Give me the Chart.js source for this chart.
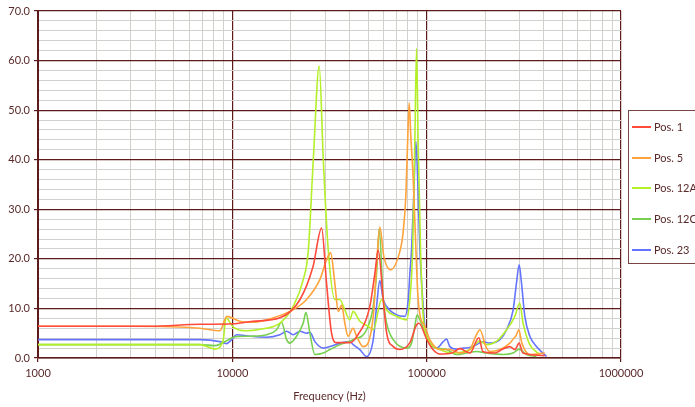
<!DOCTYPE html>
<html>
<head>
<meta charset="utf-8">
<script src="https://cdn.jsdelivr.net/npm/chart.js@4.4.0/dist/chart.umd.min.js"></script>
<style>
  html, body { margin:0; padding:0; width:695px; height:407px; overflow:hidden; background:#fff; }
  #wrap { position:relative; width:695px; height:407px; }
  #legend { position:absolute; left:628px; top:110px; width:90px; height:154px; border:1px solid #7a4545; box-sizing:border-box; font-family:Lato, sans-serif; font-size:11px; color:#5a2a2a; }
  .item { position:absolute; left:3px; height:14px; line-height:14px; white-space:nowrap; }
  .sw { position:absolute; left:0; top:6px; width:19px; height:2px; }
  .lbl { position:absolute; left:22px; top:0; }
</style>
</head>
<body>
<div id="wrap">
<canvas id="c" width="695" height="407"></canvas>
<div id="legend"></div>
</div>
<script>
const seriesNames = ["Pos. 1", "Pos. 5", "Pos. 12A", "Pos. 12C", "Pos. 23"];
const seriesColors = ["#ff4a3c", "#ffa33c", "#b4f02a", "#78d050", "#6474ff"];

const freqPos1 = [1000, 3770, 6800, 10000, 12770, 17580, 22300, 26000, 28800, 30550, 32400, 34400, 40300, 43600, 51000, 54200, 56300, 59800, 62200, 67300, 72800, 82000, 88700, 91200, 100000, 107700, 117000, 135000, 148300, 166800, 185700, 194600, 224500, 243900, 268000, 284400, 299300, 312800, 405500];
const valPos1 = [6.4, 6.4, 6.8, 6.9, 7.4, 8.1, 11.8, 18.4, 26.2, 15, 5, 3.1, 3.1, 4.3, 10.4, 17.2, 21.8, 11.8, 5.1, 2.3, 1.7, 3.1, 6.7, 7.0, 3.8, 1.7, 0.8, 1.0, 1.9, 1.0, 4.1, 1.3, 1.0, 1.7, 2.3, 1.7, 3.0, 1.0, 0.5];

const freqPos5 = [1000, 2970, 6810, 8630, 9380, 10940, 12770, 15600, 20500, 24100, 28200, 30550, 32050, 33700, 35100, 36500, 37900, 39400, 41800, 43600, 47100, 53100, 55200, 57400, 60200, 65200, 72800, 75500, 78200, 80000, 81300, 82800, 85300, 88000, 90000, 92300, 97900, 103800, 117000, 131600, 148300, 166800, 179000, 187800, 201700, 211500, 238300, 268000, 281000, 287700, 298000, 309000, 339600, 405500];
const valPos5 = [6.4, 6.4, 6.0, 5.5, 8.4, 7.4, 7.2, 7.9, 9.7, 11.8, 15.8, 19.8, 21.2, 15, 9.4, 10.7, 7.1, 4.4, 6.0, 4.4, 2.3, 8.4, 18.5, 26.4, 20.5, 17.8, 21.5, 25, 33, 45, 51.5, 45, 36, 22, 13, 8.7, 6.4, 3.7, 1.7, 1.7, 1.0, 1.7, 4.4, 5.7, 2.3, 1.3, 1.7, 3.0, 4.0, 4.4, 5.7, 3.0, 0.7, 1.0];

const freqPos12A = [1000, 6810, 8130, 8980, 9270, 10110, 11860, 13890, 17580, 20570, 23170, 24580, 26100, 28000, 29380, 31150, 33700, 35750, 37900, 40250, 41850, 45300, 50000, 53100, 58600, 62200, 70000, 78800, 82000, 84700, 86900, 88700, 90400, 93000, 96000, 100000, 108000, 117000, 136400, 166800, 187800, 203300, 229100, 257800, 284400, 301300, 313300, 339600, 382000];
const valPos12A = [2.7, 2.7, 1.8, 3.7, 8.1, 6.25, 5.5, 5.8, 7.05, 10.4, 15.8, 21.5, 40, 58.9, 40, 21.8, 11.8, 11.8, 9.7, 7.7, 9.4, 7.4, 6.4, 5.7, 11.8, 9.7, 8.4, 7.7, 12, 21.8, 43.4, 62.5, 43.4, 21.8, 8.4, 4.4, 2.3, 1.7, 1.0, 1.7, 3.4, 2.7, 3.4, 5.7, 8.4, 11.1, 7.05, 2.7, 0.7];

const freqPos12C = [1000, 6810, 8130, 9570, 10100, 12320, 15010, 16890, 17930, 19020, 19780, 21410, 23170, 23920, 25070, 26600, 29380, 31770, 35750, 41850, 49070, 53100, 55240, 56980, 59750, 62200, 67300, 78800, 83600, 86900, 89300, 92300, 100000, 108000, 126500, 142500, 160400, 180700, 203300, 247700, 278600, 299300, 326300, 367300];
const valPos12C = [2.7, 2.7, 2.5, 3.7, 4.2, 4.4, 4.7, 5.7, 7.2, 3.7, 3.0, 4.4, 7.05, 9.2, 5, 0.7, 1.0, 1.7, 2.7, 3.7, 5.7, 10.4, 17.1, 26, 11.8, 7.05, 3.7, 2.0, 3.0, 6.4, 8.7, 7.7, 4.4, 2.3, 1.7, 0.7, 1.0, 1.3, 1.0, 0.7, 1.0, 1.8, 0.7, 0.3];

const freqPos23 = [1000, 6810, 8630, 9330, 9910, 10520, 12320, 15010, 17580, 19020, 20570, 22290, 24100, 25070, 26600, 29380, 31770, 35750, 40250, 41850, 45300, 49070, 53100, 55240, 57400, 59750, 62200, 70000, 77300, 80400, 82000, 83600, 85900, 88000, 90400, 92300, 94200, 97900, 103800, 112500, 121700, 126500, 131600, 142500, 154200, 166800, 180700, 195400, 211500, 238300, 257800, 278600, 289800, 299300, 307600, 320000, 339600, 367300, 414000];
const valPos23 = [3.7, 3.7, 3.3, 2.9, 3.7, 4.7, 4.4, 4.2, 4.7, 5.4, 4.7, 5.4, 5.0, 5.2, 3.3, 2.0, 2.3, 3.0, 3.3, 2.7, 1.7, 0.3, 3.7, 10.4, 15.6, 11.8, 10.4, 8.7, 8.4, 11.8, 17.2, 21.8, 33.3, 43.7, 33.3, 21.8, 15.1, 6.4, 3.0, 2.0, 3.3, 3.8, 2.3, 1.8, 2.0, 2.1, 2.7, 3.3, 3.0, 3.7, 5.7, 9.7, 15.1, 18.8, 15.1, 8.4, 4.4, 2.3, 0.3];

const xTickLabels = ["1000", "10000", "100000", "1000000"];
const yMin = 0, yMax = 70, yMajorStep = 10, yMinorStep = 2;
const xAxisTitle = "Frequency (Hz)";

const allFreq = [freqPos1, freqPos5, freqPos12A, freqPos12C, freqPos23];
const allVal = [valPos1, valPos5, valPos12A, valPos12C, valPos23];

const MAROON = "#5c1a1a";
const TEXT = "#5a2a2a";
const MINOR = "#d2d0cc";

const datasets = seriesNames.map((name, i) => ({
  label: name,
  data: allFreq[i].map((f, j) => ({ x: f, y: allVal[i][j] })),
  borderColor: seriesColors[i],
  backgroundColor: seriesColors[i],
  borderWidth: 1.6,
  pointRadius: 0,
  cubicInterpolationMode: 'monotone',
  fill: false
}));

const isMajorX = v => { const l = Math.log10(v); return Math.abs(l - Math.round(l)) < 1e-9; };
const isMajorY = v => Math.abs(v / yMajorStep - Math.round(v / yMajorStep)) < 1e-9;

new Chart(document.getElementById('c'), {
  type: 'line',
  data: { datasets },
  options: {
    responsive: false,
    animation: false,
    layout: { padding: { top: 11, right: 74, left: 0, bottom: 0 } },
    plugins: { legend: { display: false }, tooltip: { enabled: false } },
    scales: {
      x: {
        type: 'logarithmic',
        min: 1000, max: 1000000,
        afterBuildTicks: (scale) => {
          const t = [];
          for (let e = 3; e < 6; e++) for (let m = 1; m <= 9; m++) t.push({ value: m * Math.pow(10, e) });
          t.push({ value: 1e6 });
          scale.ticks = t;
        },
        afterFit: (scale) => { scale.height = 49; },
        ticks: {
          autoSkip: false, maxRotation: 0, padding: 5,
          color: TEXT, font: { family: 'Lato', size: 11 },
          callback: (v) => isMajorX(v) ? xTickLabels[Math.round(Math.log10(v)) - 3] : ''
        },
        grid: {
          color: (ctx) => isMajorX(ctx.tick.value) ? MAROON : MINOR,
          lineWidth: (ctx) => isMajorX(ctx.tick.value) ? 1.2 : 1,
          tickColor: (ctx) => isMajorX(ctx.tick.value) ? MAROON : 'rgba(0,0,0,0)',
          tickLength: 4
        },
        border: { color: MAROON, width: 1.5 },
        title: { display: true, text: xAxisTitle, color: TEXT, font: { family: 'Lato', size: 11 }, padding: { top: 0, bottom: 4 } }
      },
      y: {
        min: yMin, max: yMax,
        afterFit: (scale) => { scale.width = 38; },
        ticks: {
          stepSize: yMinorStep, autoSkip: false, padding: 4,
          color: TEXT, font: { family: 'Lato', size: 11 },
          callback: (v) => isMajorY(v) ? v.toFixed(1) : ''
        },
        grid: {
          color: (ctx) => isMajorY(ctx.tick.value) ? MAROON : MINOR,
          lineWidth: (ctx) => isMajorY(ctx.tick.value) ? 1.2 : 1,
          tickColor: (ctx) => isMajorY(ctx.tick.value) ? MAROON : 'rgba(0,0,0,0)',
          tickLength: 4
        },
        border: { color: MAROON, width: 2 }
      }
    }
  }
});

const leg = document.getElementById('legend');
const rowTops = [9, 40, 70, 101, 132];
seriesNames.forEach((n, i) => {
  const d = document.createElement('div');
  d.className = 'item';
  d.style.top = rowTops[i] + 'px';
  const sw = document.createElement('div');
  sw.className = 'sw';
  sw.style.background = seriesColors[i];
  const lb = document.createElement('div');
  lb.className = 'lbl';
  lb.textContent = n;
  d.appendChild(sw);
  d.appendChild(lb);
  leg.appendChild(d);
});
</script>
</body>
</html>
